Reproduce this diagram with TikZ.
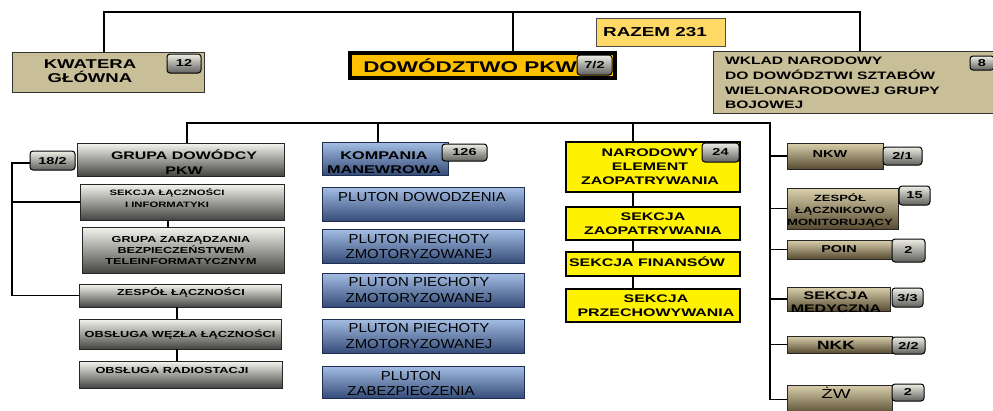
\documentclass[tikz,border=0pt]{standalone}
\usepackage{fontspec}
\setmainfont{Liberation Sans}
\newfontfamily\fb[FakeStretch=1.45]{Liberation Sans}
\newfontfamily\fr[FakeStretch=1.15]{Liberation Sans}
\usetikzlibrary{calc}
\newcommand\fz[2]{\fontsize{#1}{#2}\selectfont}
\definecolor{tanflat}{RGB}{200,190,152}
\definecolor{gtop}{RGB}{246,246,240}
\definecolor{gbot}{RGB}{68,68,66}
\definecolor{btop}{RGB}{165,190,228}
\definecolor{bbot}{RGB}{52,76,120}
\definecolor{ttop}{RGB}{218,208,172}
\definecolor{tbot}{RGB}{88,76,50}
\definecolor{bdtop}{RGB}{238,238,230}
\definecolor{bdbot}{RGB}{96,96,92}
\definecolor{razfill}{RGB}{255,217,102}
\definecolor{orng}{RGB}{255,192,0}
\definecolor{navyb}{RGB}{30,45,80}
\newcommand\bx[6]{\node[#1,anchor=north west,minimum width={#5pt-#3pt},minimum height={#6pt-#4pt}] (#2) at (#3,#4) {};}
\newcommand\bg[6]{\node[badge,minimum width={#4pt-#2pt},minimum height={#5pt-#3pt}] (#1) at ({(#2+#4)/2},{(#3+#5)/2}) {#6};}
\newcommand\tx[5]{\node[inner sep=0pt,align=center,font={#1}] (#2) at (#3,#4) {#5};}
\begin{document}
\begin{tikzpicture}[x=1pt,y=-1pt,
  every node/.style={inner sep=0pt,outer sep=0pt},
  conn/.style={line width=1.5pt,draw=black},
  flat/.style={draw=black!80,line width=1pt,fill=tanflat},
  orbox/.style={draw=black,line width=3.5pt,fill=orng},
  raz/.style={draw=black!70,line width=1pt,fill=razfill},
  grey/.style={draw=black!85,line width=1pt,top color=gtop,bottom color=gbot},
  blue/.style={draw=navyb,line width=1pt,top color=btop,bottom color=bbot},
  tanb/.style={draw=black!85,line width=1pt,top color=ttop,bottom color=tbot},
  yel/.style={draw=black,line width=1.2pt,fill=yellow},
  badge/.style={draw=black,line width=1pt,rounded corners=3pt,top color=bdtop,bottom color=bdbot,font=\fb\bfseries\fz{10}{12}}]
\useasboundingbox (0,0) rectangle (993,410);
\fill[white] (0,0) rectangle (993,410);

% top level
\bx{flat}{kw}{12}{52}{204}{92}
\bx{orbox}{dw}{350}{53}{615}{78}
\bx{raz}{rz}{596}{18}{725}{46}
\bx{flat}{wk}{713}{51}{998}{113}

% left group
\bx{grey}{gd}{77}{143}{284}{176}
\bx{grey}{sl}{80}{184}{284}{220}
\bx{grey}{gz}{82}{227}{284}{273}
\bx{grey}{zs}{79}{284}{281}{307}
\bx{grey}{ow}{79}{319}{281}{349}
\bx{grey}{or}{79}{361}{282}{388}

% blue group
\bx{blue}{km}{322}{142}{448}{175}
\bx{blue}{pd}{322}{187}{524}{221}
\bx{blue}{p1}{322}{229}{524}{263}
\bx{blue}{p2}{322}{273}{524}{307}
\bx{blue}{p3}{322}{319}{524}{353}
\bx{blue}{pz}{322}{366}{524}{398}

% yellow group
\bx{yel}{ne}{566}{142}{740}{192}
\bx{yel}{sz}{566}{207}{740}{240}
\bx{yel}{sf}{566}{252}{740}{276}
\bx{yel}{sp}{566}{289}{740}{322}

% right group
\bx{tanb}{nkw}{787}{143}{883}{169}
\bx{tanb}{zlm}{787}{188}{898}{229}
\bx{tanb}{poin}{787}{240}{892}{259}
\bx{tanb}{med}{787}{287}{890}{311}
\bx{tanb}{nkk}{787}{336}{892}{353}
\bx{tanb}{zw}{787}{385}{892}{414}

% badges
\bg{b12}{167}{54}{201}{73}{12}
\bg{b72}{577}{55}{612}{75}{7/2}
\bg{b8}{970}{56}{994}{70}{8}
\bg{b18}{30}{151}{75}{170}{18/2}
\bg{b126}{442}{144}{487}{161}{126}
\bg{b24}{702}{143}{739}{162}{24}
\bg{b21}{883}{147}{922}{165}{2/1}
\bg{b15}{899}{186}{930}{205}{15}
\bg{bp}{892}{239}{925}{262}{2}
\bg{b33}{892}{288}{923}{307}{3/3}
\bg{b22}{892}{337}{925}{354}{2/2}
\bg{bz}{892}{384}{924}{401}{2}

% labels
\tx{\fb\bfseries\fz{12.8}{14}}{tkw}{90}{71.5}{KWATERA\\GŁÓWNA}
\tx{\fb\bfseries\fz{15.5}{18}}{tdw}{470}{65.5}{DOWÓDZTWO PKW}
\tx{\fb\bfseries\fz{13}{15}}{trz}{655}{32}{RAZEM 231}
\node[inner sep=0pt,align=left,anchor=west,font={\fb\bfseries\fz{10.8}{14.7}}] (twk) at (725,83) {WKLAD NARODOWY\\DO DOWÓDZTWI SZTABÓW\\WIELONARODOWEJ GRUPY\\BOJOWEJ};
\tx{\fb\bfseries\fz{11}{15}}{tgd}{184}{162}{GRUPA DOWÓDCY\\PKW}
\tx{\fb\bfseries\fz{7.8}{11.7}}{tsl}{167}{198}{SEKCJA ŁĄCZNOŚCI\\I INFORMATYKI}
\tx{\fb\bfseries\fz{8.7}{11}}{tgz}{181}{250}{GRUPA ZARZĄDZANIA\\BEZPIECZEŃSTWEM\\TELEINFORMATYCZNYM}
\tx{\fb\bfseries\fz{8.7}{11}}{tzs}{181}{293}{ZESPÓŁ ŁĄCZNOŚCI}
\tx{\fb\bfseries\fz{8.8}{11}}{tow}{180}{335}{OBSŁUGA WĘZŁA ŁĄCZNOŚCI}
\tx{\fb\bfseries\fz{8.8}{11}}{tor}{172}{370}{OBSŁUGA RADIOSTACJI}
\tx{\fb\bfseries\fz{11.2}{13.3}}{tkm}{384}{162.5}{KOMPANIA\\MANEWROWA}
\tx{\fr\fz{13}{15.7}}{tpd}{422}{197}{PLUTON DOWODZENIA}
\tx{\fr\fz{13}{15.7}}{tp1}{419}{246.5}{PLUTON PIECHOTY\\ZMOTORYZOWANEJ}
\tx{\fr\fz{13}{15.7}}{tp2}{419}{290}{PLUTON PIECHOTY\\ZMOTORYZOWANEJ}
\tx{\fr\fz{13}{15.7}}{tp3}{419}{336}{PLUTON PIECHOTY\\ZMOTORYZOWANEJ}
\tx{\fr\fz{13}{15.7}}{tpz}{411}{383.5}{PLUTON\\ZABEZPIECZENIA}
\tx{\fb\bfseries\fz{11}{14}}{tne}{650}{166.5}{NARODOWY\\ELEMENT\\ZAOPATRYWANIA}
\tx{\fb\bfseries\fz{11}{14}}{tsz}{653}{224}{SEKCJA\\ZAOPATRYWANIA}
\tx{\fb\bfseries\fz{11}{14}}{tsf}{647}{262}{SEKCJA FINANSÓW}
\tx{\fb\bfseries\fz{11}{14}}{tsp}{656}{306}{SEKCJA\\PRZECHOWYWANIA}
\tx{\fb\bfseries\fz{10}{12}}{tnkw}{830}{154.5}{NKW}
\tx{\fb\bfseries\fz{9}{12}}{tzlm}{840}{210.5}{ZESPÓŁ\\ŁĄCZNIKOWO\\MONITORUJĄCY}
\tx{\fb\bfseries\fz{10}{12}}{tpoin}{839}{249}{POIN}
\tx{\fb\bfseries\fz{11}{12.5}}{tmed}{836}{302}{SEKCJA\\MEDYCZNA}
\tx{\fb\bfseries\fz{12}{13}}{tnkk}{836}{345.5}{NKK}
\tx{\fb\fz{13}{14}}{tzw}{836}{393}{ŻW}

% connectors: top
\coordinate (t1) at (104,12);
\coordinate (t2) at (860,12);
\coordinate (t3) at (513,12);
\draw[conn] (kw.north -| t1) -- (t1) -- (t2) -- (t2 |- wk.north);
\draw[conn] (t3) -- (t3 |- dw.north);

% second bus
\coordinate (b1) at (187,123);
\coordinate (b2) at (378,123);
\coordinate (b3) at (633,123);
\coordinate (b4) at (770,123);
\draw[conn] (b1 |- gd.north) -- (b1) -- (b4) -- (b4 |- zw.west) -- (zw.west);
\draw[conn] (b2) -- (b2 |- km.north);
\draw[conn] (b3) -- (b3 |- ne.north);
\draw[conn] (b4 |- nkw.west) -- (nkw.west);
\draw[conn] (b4 |- zlm.west) -- (zlm.west);
\draw[conn] (b4 |- poin.west) -- (poin.west);
\draw[conn] (b4 |- med.west) -- (med.west);
\draw[conn] (b4 |- nkk.west) -- (nkk.west);

% left group
\coordinate (l1) at (12,163);
\draw[conn] (b18.west |- l1) -- (l1) -- (l1 |- zs.west) -- (zs.west);
\draw[conn] (l1 |- sl.west) -- (sl.west);
\draw[conn] ($(sl.south)+(-14,0)$) -- ($(gz.north)+(-15,0)$);
\draw[conn] ($(zs.south)+(-3,0)$) -- ($(ow.north)+(-3,0)$);
\draw[conn] ($(ow.south)+(-3,0)$) -- ($(or.north)+(-3.5,0)$);

% yellow group
\draw[conn] ($(ne.south)+(-20,0)$) -- ($(sz.north)+(-20,0)$);
\draw[conn] ($(sz.south)+(-20,0)$) -- ($(sf.north)+(-20,0)$);
\draw[conn] ($(sf.south)+(-20,0)$) -- ($(sp.north)+(-20,0)$);
\end{tikzpicture}
\end{document}
